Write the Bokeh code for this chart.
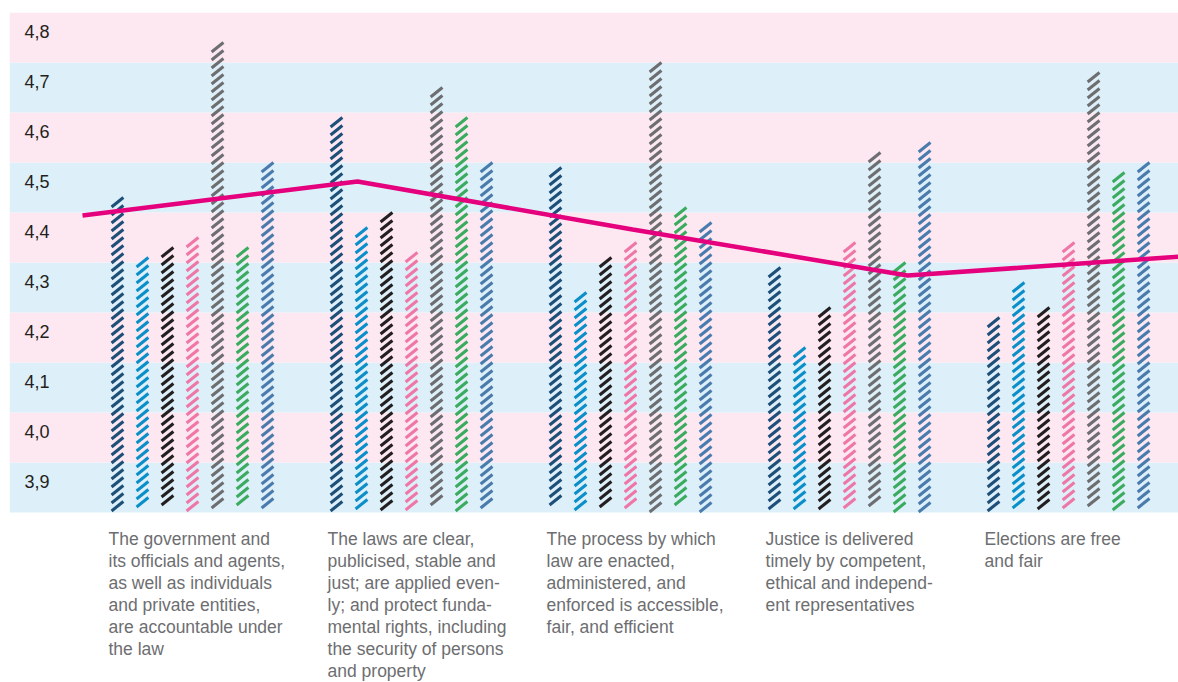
import numpy as np
from bokeh.plotting import figure
from bokeh.models import BoxAnnotation, Label, Range1d, ColumnDataSource
from bokeh.embed import file_html
from bokeh.resources import INLINE
from bokeh.core.properties import value

# ---- data ----
categories = [
    "The government and\nits officials and agents,\nas well as individuals\nand private entities,\nare accountable under\nthe law",
    "The laws are clear,\npublicised, stable and\njust; are applied even-\nly; and protect funda-\nmental rights, including\nthe security of persons\nand property",
    "The process by which\nlaw are enacted,\nadministered, and\nenforced is accessible,\nfair, and efficient",
    "Justice is delivered\ntimely by competent,\nethical and independ-\nent representatives",
    "Elections are free\nand fair",
]
s_navy = [4.48, 4.64, 4.54, 4.34, 4.24]
s_cyan = [4.36, 4.42, 4.29, 4.18, 4.31]
s_black = [4.38, 4.45, 4.36, 4.26, 4.26]
s_pink = [4.40, 4.37, 4.39, 4.39, 4.39]
s_gray = [4.79, 4.70, 4.75, 4.57, 4.73]
s_green = [4.38, 4.64, 4.46, 4.35, 4.53]
s_steel = [4.55, 4.55, 4.43, 4.59, 4.55]
trend = [4.444, 4.512, 4.416, 4.324, 4.362]
tick_values = [3.9, 4.0, 4.1, 4.2, 4.3, 4.4, 4.5, 4.6, 4.7, 4.8]
tick_labels = ["3,9", "4,0", "4,1", "4,2", "4,3", "4,4", "4,5", "4,6", "4,7", "4,8"]

series = [s_navy, s_cyan, s_black, s_pink, s_gray, s_green, s_steel]
colors = ["#1d4f78", "#0b8fc9", "#231f20", "#ef77a7", "#6d6e71", "#3aab5f", "#4a7bad"]
band_colors = {0: "#ddeff8", 1: "#fde8f1"}

base = 3.85
step = 0.1142      # spacing of bars within a group (x units)
bar_w = 0.054      # bar width (x units)
stroke_gap = 0.016 # vertical spacing of hatch strokes (y units)
stroke_rise = 0.019

p = figure(width=1178, height=682,
           x_range=Range1d(-0.8356, 4.502), y_range=Range1d(3.51, 4.85),
           output_backend="svg", toolbar_location=None,
           min_border_left=9, min_border_right=0, min_border_top=12, min_border_bottom=0)
p.axis.visible = False
p.grid.visible = False
p.outline_line_color = None
p.background_fill_color = "white"
p.border_fill_color = "white"

for i, t in enumerate(tick_values):
    p.add_layout(BoxAnnotation(bottom=t - 0.05, top=t + 0.05,
                               fill_color=band_colors[i % 2], fill_alpha=1,
                               line_color=None, level="underlay"))
    p.add_layout(Label(x=15, y=t, x_units="screen", text=tick_labels[i],
                       text_font="Liberation Sans", text_font_size="18px",
                       text_color="#231f20", text_baseline="middle", y_offset=6))

gidx = list(range(len(categories)))

# hatched bars: each bar is drawn as a stack of short diagonal strokes
for k, (vals, col) in enumerate(zip(series, colors)):
    x0s, y0s, x1s, y1s = [], [], [], []
    for g, top in zip(gidx, vals):
        xc = g + (k - 3) * step
        y_top = np.arange(top, base + stroke_rise - 1e-9, -stroke_gap)
        x0s += [xc - bar_w / 2] * len(y_top)
        x1s += [xc + bar_w / 2] * len(y_top)
        y0s += list(y_top - stroke_rise)
        y1s += list(y_top)
    src = ColumnDataSource(dict(x0=x0s, y0=y0s, x1=x1s, y1=y1s))
    p.segment(x0="x0", y0="y0", x1="x1", y1="y1", source=src,
              line_color=col, line_width=3, line_cap="butt")

p.extra_x_ranges = {"trend": Range1d(-0.2655, 3.985)}
p.line(x=gidx, y=trend, x_range_name="trend", line_color="#e5007d", line_width=4.5)

p.text(x=gidx, y=[base] * len(gidx), text=categories,
       x_offset=-84, y_offset=16, text_baseline="top", text_align="left",
       text_font=value("Liberation Sans"), text_font_size="17.5px",
       text_line_height=1.1, text_color="#6d6e71")

open("out.html", "w").write(file_html(p, INLINE))
